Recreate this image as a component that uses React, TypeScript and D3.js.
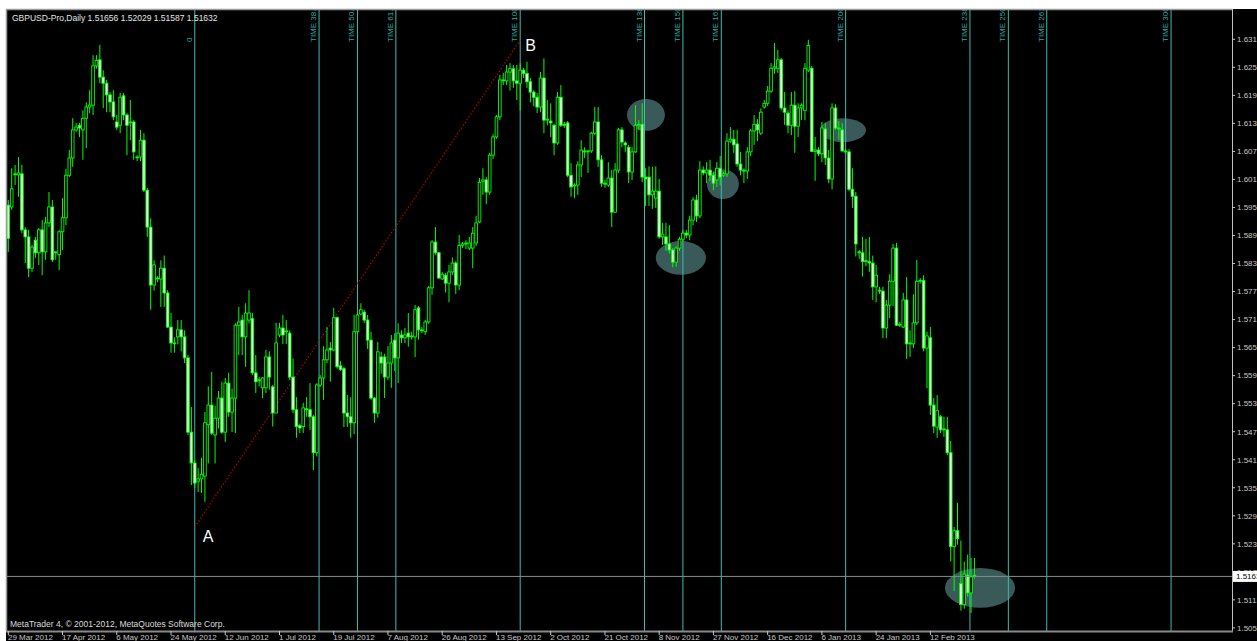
import React from "react";
import { scaleLinear } from "d3";

const WIDTH = 1257;
const HEIGHT = 641;
const FRAME = { left: 7, top: 10, right: 1232, bottom: 631 };

const titleText = "GBPUSD-Pro,Daily  1.51656 1.52029 1.51587 1.51632";
const copyrightText = "MetaTrader 4, \u00a9 2001-2012, MetaQuotes Software Corp.";

// x axis labels and the bar index each one sits on
const dateLabels = [
  "29 Mar 2012", "17 Apr 2012", "6 May 2012", "24 May 2012", "12 Jun 2012", "1 Jul 2012",
  "19 Jul 2012", "7 Aug 2012", "26 Aug 2012", "13 Sep 2012", "2 Oct 2012", "21 Oct 2012",
  "8 Nov 2012", "27 Nov 2012", "16 Dec 2012", "6 Jan 2013", "24 Jan 2013", "12 Feb 2013",
];
const dateLabelBars = [0, 16, 32, 48, 64, 80, 96, 112, 128, 144, 160, 176, 192, 208, 224, 240, 256, 272];

const priceTicks = [
  1.6313, 1.6253, 1.6193, 1.6133, 1.6073, 1.6013, 1.5953, 1.5893, 1.5833, 1.5773, 1.5713,
  1.5653, 1.5593, 1.5533, 1.5473, 1.5413, 1.5353, 1.5293, 1.5233, 1.5173, 1.5113, 1.5053,
];

const lastPrice = 1.51632;

// fibonacci time zones between A and B
const anchorA = { bar: 55, price: 1.5269 };
const anchorB = { bar: 151, price: 1.6311 };
const timeLevels = [0, 38.2, 50, 61.8, 100, 138.2, 150, 161.8, 200, 238.2, 250, 261.8, 300];
const timeLabels = ["0", "TIME 38.2", "TIME 50.0", "TIME 61.8", "TIME 100.0", "TIME 138.2", "TIME 150.0",
  "TIME 161.8", "TIME 200.0", "TIME 238.2", "TIME 250.0", "TIME 261.8", "TIME 300.0"];

// highlighted areas: [barFrom, barTo, priceHigh, priceLow]
const highlights: [number, number, number, number][] = [
  [182.5, 193.7, 1.6185, 1.6117],
  [191.0, 205.8, 1.5881, 1.5809],
  [206.1, 215.5, 1.6035, 1.5971],
  [239.4, 253.0, 1.6144, 1.6093],
  [276.3, 297.0, 1.5181, 1.5096],
];

// daily candles [open, high, low, close]
const ohlc: [number, number, number, number][] = [
  [1.5958, 1.5969, 1.5858, 1.5887], [1.5954, 1.6037, 1.5948, 1.5993], [1.6025, 1.6044, 1.6001, 1.6023],
  [1.6023, 1.6061, 1.5976, 1.6027], [1.6025, 1.6044, 1.5898, 1.5905], [1.5905, 1.5911, 1.5834, 1.5890],
  [1.5890, 1.5905, 1.5804, 1.5823], [1.5823, 1.5873, 1.5815, 1.5868], [1.5883, 1.5890, 1.5845, 1.5856],
  [1.5856, 1.5909, 1.5830, 1.5905], [1.5905, 1.5926, 1.5808, 1.5858], [1.5858, 1.5933, 1.5841, 1.5920],
  [1.5920, 1.5986, 1.5911, 1.5954], [1.5954, 1.5969, 1.5836, 1.5841], [1.5856, 1.5860, 1.5841, 1.5858],
  [1.5852, 1.5905, 1.5819, 1.5901], [1.5901, 1.5973, 1.5862, 1.5931], [1.5931, 1.6036, 1.5915, 1.6022],
  [1.6022, 1.6076, 1.6018, 1.6059], [1.6059, 1.6144, 1.6040, 1.6119], [1.6119, 1.6134, 1.6115, 1.6125],
  [1.6129, 1.6134, 1.6104, 1.6123], [1.6119, 1.6161, 1.6055, 1.6144], [1.6144, 1.6178, 1.6080, 1.6168],
  [1.6168, 1.6204, 1.6155, 1.6172], [1.6172, 1.6279, 1.6151, 1.6256], [1.6256, 1.6279, 1.6250, 1.6268],
  [1.6269, 1.6301, 1.6219, 1.6232], [1.6232, 1.6247, 1.6166, 1.6219], [1.6219, 1.6226, 1.6157, 1.6194],
  [1.6194, 1.6200, 1.6157, 1.6179], [1.6179, 1.6204, 1.6140, 1.6147], [1.6136, 1.6151, 1.6119, 1.6125],
  [1.6129, 1.6198, 1.6112, 1.6189], [1.6192, 1.6198, 1.6140, 1.6151], [1.6151, 1.6155, 1.6065, 1.6129],
  [1.6136, 1.6183, 1.6097, 1.6136], [1.6136, 1.6140, 1.6055, 1.6072], [1.6061, 1.6065, 1.6052, 1.6061],
  [1.6061, 1.6119, 1.6052, 1.6097], [1.6097, 1.6112, 1.5986, 1.5990], [1.5990, 1.5995, 1.5890, 1.5911],
  [1.5911, 1.5930, 1.5734, 1.5787], [1.5787, 1.5840, 1.5775, 1.5830], [1.5802, 1.5806, 1.5793, 1.5800],
  [1.5800, 1.5840, 1.5740, 1.5823], [1.5823, 1.5850, 1.5740, 1.5770], [1.5770, 1.5776, 1.5695, 1.5697],
  [1.5697, 1.5727, 1.5642, 1.5663], [1.5663, 1.5675, 1.5642, 1.5663], [1.5676, 1.5712, 1.5660, 1.5691],
  [1.5691, 1.5712, 1.5645, 1.5676], [1.5676, 1.5690, 1.5620, 1.5631], [1.5631, 1.5637, 1.5466, 1.5472],
  [1.5472, 1.5526, 1.5359, 1.5406], [1.5406, 1.5412, 1.5352, 1.5363], [1.5367, 1.5395, 1.5344, 1.5372],
  [1.5372, 1.5417, 1.5342, 1.5382], [1.5378, 1.5515, 1.5323, 1.5492], [1.5488, 1.5570, 1.5405, 1.5530],
  [1.5530, 1.5601, 1.5466, 1.5470], [1.5466, 1.5528, 1.5405, 1.5502], [1.5502, 1.5560, 1.5480, 1.5545],
  [1.5545, 1.5580, 1.5468, 1.5472], [1.5472, 1.5588, 1.5451, 1.5577], [1.5577, 1.5599, 1.5505, 1.5515],
  [1.5515, 1.5565, 1.5472, 1.5545], [1.5545, 1.5705, 1.5470, 1.5701], [1.5701, 1.5740, 1.5637, 1.5708],
  [1.5712, 1.5723, 1.5637, 1.5676], [1.5676, 1.5748, 1.5612, 1.5727], [1.5712, 1.5776, 1.5705, 1.5727],
  [1.5715, 1.5727, 1.5594, 1.5599], [1.5599, 1.5637, 1.5556, 1.5580], [1.5584, 1.5590, 1.5570, 1.5582],
  [1.5567, 1.5590, 1.5545, 1.5588], [1.5567, 1.5648, 1.5556, 1.5633], [1.5633, 1.5645, 1.5563, 1.5590],
  [1.5569, 1.5573, 1.5484, 1.5513], [1.5513, 1.5706, 1.5513, 1.5663], [1.5680, 1.5706, 1.5675, 1.5695],
  [1.5695, 1.5723, 1.5661, 1.5680], [1.5688, 1.5712, 1.5661, 1.5689], [1.5684, 1.5690, 1.5584, 1.5590],
  [1.5590, 1.5630, 1.5513, 1.5520], [1.5520, 1.5547, 1.5460, 1.5484], [1.5486, 1.5490, 1.5470, 1.5481],
  [1.5484, 1.5535, 1.5470, 1.5524], [1.5522, 1.5547, 1.5505, 1.5520], [1.5520, 1.5577, 1.5477, 1.5505],
  [1.5505, 1.5509, 1.5391, 1.5428], [1.5428, 1.5577, 1.5420, 1.5573], [1.5573, 1.5594, 1.5569, 1.5588],
  [1.5588, 1.5656, 1.5541, 1.5627], [1.5627, 1.5697, 1.5620, 1.5648], [1.5652, 1.5665, 1.5580, 1.5648],
  [1.5648, 1.5738, 1.5645, 1.5717], [1.5717, 1.5720, 1.5608, 1.5612], [1.5614, 1.5624, 1.5603, 1.5606],
  [1.5608, 1.5612, 1.5483, 1.5513], [1.5513, 1.5552, 1.5483, 1.5505], [1.5505, 1.5547, 1.5460, 1.5492],
  [1.5492, 1.5723, 1.5468, 1.5687], [1.5687, 1.5727, 1.5683, 1.5723], [1.5725, 1.5748, 1.5722, 1.5734],
  [1.5729, 1.5734, 1.5706, 1.5712], [1.5712, 1.5723, 1.5650, 1.5669], [1.5669, 1.5687, 1.5541, 1.5545],
  [1.5545, 1.5547, 1.5492, 1.5513], [1.5513, 1.5665, 1.5503, 1.5644], [1.5633, 1.5644, 1.5597, 1.5620],
  [1.5633, 1.5640, 1.5545, 1.5590], [1.5590, 1.5656, 1.5584, 1.5620], [1.5620, 1.5680, 1.5567, 1.5663],
  [1.5669, 1.5684, 1.5603, 1.5631], [1.5631, 1.5705, 1.5577, 1.5684], [1.5680, 1.5690, 1.5663, 1.5674],
  [1.5674, 1.5695, 1.5663, 1.5680], [1.5684, 1.5727, 1.5655, 1.5676], [1.5676, 1.5687, 1.5670, 1.5678],
  [1.5676, 1.5744, 1.5633, 1.5734], [1.5738, 1.5742, 1.5670, 1.5691], [1.5691, 1.5697, 1.5684, 1.5689],
  [1.5687, 1.5712, 1.5680, 1.5708], [1.5708, 1.5785, 1.5704, 1.5781], [1.5781, 1.5883, 1.5766, 1.5879],
  [1.5879, 1.5911, 1.5852, 1.5856], [1.5856, 1.5858, 1.5800, 1.5802], [1.5800, 1.5815, 1.5798, 1.5810],
  [1.5808, 1.5813, 1.5771, 1.5791], [1.5791, 1.5830, 1.5750, 1.5815], [1.5815, 1.5846, 1.5808, 1.5834],
  [1.5834, 1.5838, 1.5768, 1.5787], [1.5787, 1.5894, 1.5776, 1.5872], [1.5872, 1.5879, 1.5866, 1.5875],
  [1.5875, 1.5883, 1.5864, 1.5877], [1.5866, 1.5890, 1.5862, 1.5877], [1.5866, 1.5911, 1.5823, 1.5898],
  [1.5877, 1.5935, 1.5870, 1.5920], [1.5922, 1.6016, 1.5920, 1.6007], [1.6009, 1.6037, 1.5980, 1.6012],
  [1.6012, 1.6018, 1.5960, 1.5986], [1.5986, 1.6070, 1.5980, 1.6065], [1.6065, 1.6110, 1.6057, 1.6104],
  [1.6104, 1.6151, 1.6100, 1.6147], [1.6147, 1.6237, 1.6140, 1.6226], [1.6226, 1.6241, 1.6215, 1.6224],
  [1.6224, 1.6258, 1.6215, 1.6243], [1.6243, 1.6262, 1.6203, 1.6250], [1.6250, 1.6258, 1.6209, 1.6224],
  [1.6224, 1.6258, 1.6183, 1.6219], [1.6219, 1.6262, 1.6161, 1.6247], [1.6247, 1.6252, 1.6230, 1.6240],
  [1.6240, 1.6265, 1.6209, 1.6222], [1.6222, 1.6230, 1.6178, 1.6200], [1.6200, 1.6204, 1.6170, 1.6189],
  [1.6189, 1.6198, 1.6155, 1.6168], [1.6168, 1.6243, 1.6157, 1.6230], [1.6230, 1.6272, 1.6112, 1.6140],
  [1.6140, 1.6183, 1.6129, 1.6142], [1.6138, 1.6176, 1.6104, 1.6134], [1.6129, 1.6132, 1.6065, 1.6091],
  [1.6091, 1.6200, 1.6087, 1.6189], [1.6189, 1.6215, 1.6125, 1.6129], [1.6131, 1.6136, 1.6123, 1.6129],
  [1.6134, 1.6138, 1.6018, 1.6022], [1.6022, 1.6048, 1.5976, 1.5997], [1.5999, 1.6005, 1.5973, 1.6001],
  [1.6001, 1.6052, 1.5980, 1.6044], [1.6044, 1.6097, 1.6018, 1.6076], [1.6074, 1.6082, 1.6059, 1.6072],
  [1.6072, 1.6076, 1.6027, 1.6074], [1.6074, 1.6115, 1.6070, 1.6112], [1.6112, 1.6168, 1.6108, 1.6136],
  [1.6136, 1.6168, 1.6040, 1.6055], [1.6055, 1.6065, 1.5997, 1.6005], [1.6005, 1.6012, 1.5995, 1.6003],
  [1.6001, 1.6050, 1.5997, 1.6016], [1.6016, 1.6033, 1.5911, 1.5943], [1.5943, 1.6048, 1.5941, 1.6033],
  [1.6033, 1.6123, 1.6027, 1.6119], [1.6119, 1.6125, 1.6082, 1.6093], [1.6091, 1.6095, 1.6072, 1.6087],
  [1.6082, 1.6087, 1.6005, 1.6029], [1.6029, 1.6082, 1.6012, 1.6072], [1.6072, 1.6172, 1.6070, 1.6129],
  [1.6129, 1.6140, 1.6119, 1.6131], [1.6131, 1.6176, 1.6007, 1.6018], [1.6018, 1.6037, 1.5956, 1.6014],
  [1.6018, 1.6041, 1.5956, 1.5980], [1.5980, 1.6040, 1.5950, 1.5988], [1.5973, 1.6041, 1.5952, 1.5988],
  [1.5988, 1.6014, 1.5886, 1.5890], [1.5890, 1.5920, 1.5873, 1.5896], [1.5890, 1.5920, 1.5860, 1.5875],
  [1.5875, 1.5915, 1.5854, 1.5862], [1.5862, 1.5866, 1.5825, 1.5836], [1.5836, 1.5870, 1.5826, 1.5866],
  [1.5866, 1.5890, 1.5860, 1.5885], [1.5885, 1.5905, 1.5880, 1.5898], [1.5898, 1.5905, 1.5887, 1.5894],
  [1.5894, 1.5935, 1.5883, 1.5926], [1.5926, 1.5975, 1.5915, 1.5969], [1.5969, 1.5980, 1.5922, 1.5935],
  [1.5935, 1.6052, 1.5930, 1.6033], [1.6033, 1.6041, 1.6022, 1.6027], [1.6027, 1.6050, 1.6005, 1.6033],
  [1.6033, 1.6055, 1.6010, 1.6022], [1.6022, 1.6030, 1.5990, 1.6005], [1.6012, 1.6050, 1.5997, 1.6037],
  [1.6037, 1.6063, 1.6000, 1.6018], [1.6022, 1.6030, 1.6018, 1.6025], [1.6025, 1.6112, 1.6018, 1.6095],
  [1.6095, 1.6125, 1.6091, 1.6099], [1.6099, 1.6119, 1.6070, 1.6087], [1.6089, 1.6119, 1.6040, 1.6046],
  [1.6046, 1.6072, 1.6022, 1.6033], [1.6033, 1.6037, 1.6005, 1.6031], [1.6031, 1.6082, 1.6014, 1.6072],
  [1.6072, 1.6121, 1.6063, 1.6117], [1.6117, 1.6151, 1.6087, 1.6131], [1.6131, 1.6142, 1.6095, 1.6119],
  [1.6112, 1.6165, 1.6108, 1.6157], [1.6168, 1.6183, 1.6165, 1.6176], [1.6176, 1.6213, 1.6170, 1.6202],
  [1.6202, 1.6262, 1.6198, 1.6251], [1.6251, 1.6305, 1.6239, 1.6254], [1.6251, 1.6290, 1.6241, 1.6269],
  [1.6269, 1.6273, 1.6161, 1.6166], [1.6166, 1.6200, 1.6130, 1.6157], [1.6155, 1.6161, 1.6112, 1.6129],
  [1.6129, 1.6200, 1.6108, 1.6172], [1.6172, 1.6202, 1.6070, 1.6127], [1.6127, 1.6176, 1.6104, 1.6166],
  [1.6166, 1.6176, 1.6140, 1.6172], [1.6161, 1.6262, 1.6140, 1.6251], [1.6247, 1.6312, 1.6243, 1.6300],
  [1.6251, 1.6256, 1.6072, 1.6073], [1.6073, 1.6104, 1.6010, 1.6076], [1.6076, 1.6082, 1.6063, 1.6068],
  [1.6068, 1.6136, 1.6050, 1.6123], [1.6121, 1.6134, 1.6044, 1.6059], [1.6059, 1.6076, 1.6005, 1.6014],
  [1.6014, 1.6176, 1.5992, 1.6166], [1.6166, 1.6174, 1.6119, 1.6123], [1.6123, 1.6138, 1.6097, 1.6121],
  [1.6119, 1.6134, 1.6072, 1.6074], [1.6074, 1.6078, 1.6067, 1.6072], [1.6072, 1.6078, 1.5988, 1.5992],
  [1.5992, 1.6037, 1.5952, 1.5977], [1.5977, 1.5986, 1.5848, 1.5875], [1.5858, 1.5862, 1.5843, 1.5856],
  [1.5856, 1.5890, 1.5805, 1.5837], [1.5839, 1.5886, 1.5827, 1.5837], [1.5837, 1.5890, 1.5815, 1.5834],
  [1.5834, 1.5850, 1.5755, 1.5783], [1.5783, 1.5830, 1.5750, 1.5808], [1.5776, 1.5783, 1.5768, 1.5774],
  [1.5774, 1.5783, 1.5673, 1.5695], [1.5695, 1.5755, 1.5673, 1.5744], [1.5744, 1.5810, 1.5716, 1.5795],
  [1.5795, 1.5875, 1.5742, 1.5866], [1.5866, 1.5877, 1.5699, 1.5701], [1.5701, 1.5708, 1.5697, 1.5703],
  [1.5697, 1.5770, 1.5695, 1.5755], [1.5755, 1.5804, 1.5629, 1.5661], [1.5661, 1.5690, 1.5633, 1.5663],
  [1.5661, 1.5767, 1.5652, 1.5706], [1.5706, 1.5841, 1.5701, 1.5795], [1.5795, 1.5802, 1.5790, 1.5797],
  [1.5797, 1.5808, 1.5645, 1.5652], [1.5652, 1.5687, 1.5566, 1.5678], [1.5674, 1.5697, 1.5509, 1.5530],
  [1.5530, 1.5545, 1.5470, 1.5485], [1.5483, 1.5551, 1.5460, 1.5518], [1.5505, 1.5509, 1.5470, 1.5477],
  [1.5479, 1.5505, 1.5462, 1.5477], [1.5477, 1.5505, 1.5423, 1.5428], [1.5428, 1.5453, 1.5195, 1.5227],
  [1.5227, 1.5269, 1.5132, 1.5261], [1.5261, 1.5321, 1.5231, 1.5244], [1.5148, 1.5240, 1.5090, 1.5103],
  [1.5103, 1.5195, 1.5094, 1.5168], [1.5166, 1.5210, 1.5120, 1.5128], [1.5128, 1.5203, 1.5085, 1.5162],
  [1.51656, 1.52029, 1.51587, 1.51632],
];

const FONT = "'Liberation Sans', Arial, sans-serif";
const LIME = "#00ff00";
const TEAL = "#3bbcb4";
const AXIS_TEXT = "#c8c8c8";

export default function App() {
  const x = scaleLinear().domain([0, 285]).range([8.3, 974.45]);
  const y = scaleLinear().domain([1.5053, 1.6313]).range([627.9, 39.3]);
  const step = x(1) - x(0);
  const bodyW = step * 0.78;
  const span = anchorB.bar - anchorA.bar;
  const priceY = y(lastPrice);

  return (
    <svg
      width={WIDTH}
      height={HEIGHT}
      viewBox={`0 0 ${WIDTH} ${HEIGHT}`}
      style={{ position: "fixed", left: 0, top: 0, display: "block" }}
      fontFamily={FONT}
    >
      <defs>
        <clipPath id="plot">
          <rect x={FRAME.left} y={FRAME.top} width={FRAME.right - FRAME.left} height={FRAME.bottom - FRAME.top} />
        </clipPath>
      </defs>
      <rect x={0} y={0} width={WIDTH} height={HEIGHT} fill="#ffffff" />
      <rect x={6} y={9} width={WIDTH - 6} height={HEIGHT - 9} fill="#000000" />

      <g clipPath="url(#plot)">
        {highlights.map(([b0, b1, p0, p1], i) => (
          <ellipse
            key={i}
            cx={(x(b0) + x(b1)) / 2}
            cy={(y(p0) + y(p1)) / 2}
            rx={(x(b1) - x(b0)) / 2}
            ry={(y(p1) - y(p0)) / 2}
            fill="#3a5959"
          />
        ))}

        {timeLevels.map((lv, i) => {
          const lx = x(anchorA.bar + (lv / 100) * span);
          return (
            <g key={lv}>
              <line x1={lx} x2={lx} y1={FRAME.top} y2={FRAME.bottom} stroke={TEAL} strokeWidth={1} />
              <text
                transform={`translate(${lx - 3},42) rotate(-90)`}
                fontSize={8}
                fill="#2fa8a4"
              >
                {timeLabels[i]}
              </text>
            </g>
          );
        })}

        <line
          x1={x(anchorA.bar)}
          y1={y(anchorA.price)}
          x2={x(anchorB.bar)}
          y2={y(anchorB.price)}
          stroke="#d40000"
          strokeWidth={1.2}
          strokeDasharray="1.2 2.2"
        />

        {ohlc.map(([o, h, l, c], i) => {
          const cx = x(i);
          const top = y(Math.max(o, c));
          const bh = Math.max(Math.abs(y(o) - y(c)), 0.8);
          const bull = c >= o;
          return (
            <g key={i}>
              <line x1={cx} x2={cx} y1={y(h)} y2={y(l)} stroke={LIME} strokeWidth={1} />
              <rect
                x={cx - bodyW / 2}
                y={top}
                width={bodyW}
                height={bh}
                fill={bull ? "#000000" : "#eaffea"}
                stroke={LIME}
                strokeWidth={0.9}
              />
            </g>
          );
        })}

        <line x1={FRAME.left} x2={FRAME.right} y1={priceY} y2={priceY} stroke="#7f9090" strokeWidth={1} />

        <text x={x(anchorA.bar) + 8} y={y(anchorA.price) + 15} fontSize={16} fill="#ffffff">A</text>
        <text x={x(anchorB.bar) + 5} y={y(anchorB.price) + 11} fontSize={16} fill="#ffffff">B</text>

        <text x={12} y={21} fontSize={8.5} fill="#e6e6e6">{titleText}</text>
        <text x={10} y={627} fontSize={8.5} fill="#dcdcdc">{copyrightText}</text>
      </g>

      {/* frame */}
      <line x1={6} x2={FRAME.right} y1={9.5} y2={9.5} stroke="#9a9a9a" strokeWidth={1.5} />
      <line x1={6.5} x2={6.5} y1={9} y2={FRAME.bottom} stroke="#9a9a9a" strokeWidth={1.5} />
      <line x1={FRAME.right + 0.5} x2={FRAME.right + 0.5} y1={9} y2={FRAME.bottom + 1} stroke="#c0c0c0" strokeWidth={1} />
      <line x1={6} x2={FRAME.right + 1} y1={FRAME.bottom + 0.5} y2={FRAME.bottom + 0.5} stroke="#8a8a8a" strokeWidth={2} />

      {/* price axis */}
      {priceTicks.map((p) => (
        <g key={p}>
          <line x1={FRAME.right} x2={FRAME.right + 3} y1={y(p)} y2={y(p)} stroke={AXIS_TEXT} strokeWidth={1} />
          <text x={FRAME.right + 5} y={y(p)} dy="0.35em" fontSize={8} fill={AXIS_TEXT}>
            {p.toFixed(4)}
          </text>
        </g>
      ))}
      <rect x={FRAME.right + 1} y={priceY - 5.5} width={WIDTH - FRAME.right} height={11} fill="#ffffff" />
      <text x={FRAME.right + 4} y={priceY} dy="0.35em" fontSize={8} fill="#000000">
        {lastPrice.toFixed(4)}
      </text>

      {/* time axis */}
      {dateLabels.map((d, i) => {
        const tx = x(dateLabelBars[i]);
        return (
          <g key={d}>
            <line x1={tx} x2={tx} y1={FRAME.bottom} y2={FRAME.bottom + 4} stroke={AXIS_TEXT} strokeWidth={1} />
            <text x={Math.max(tx - 0.5, 8)} y={640} fontSize={8} fill={AXIS_TEXT}>
              {d}
            </text>
          </g>
        );
      })}
    </svg>
  );
}
